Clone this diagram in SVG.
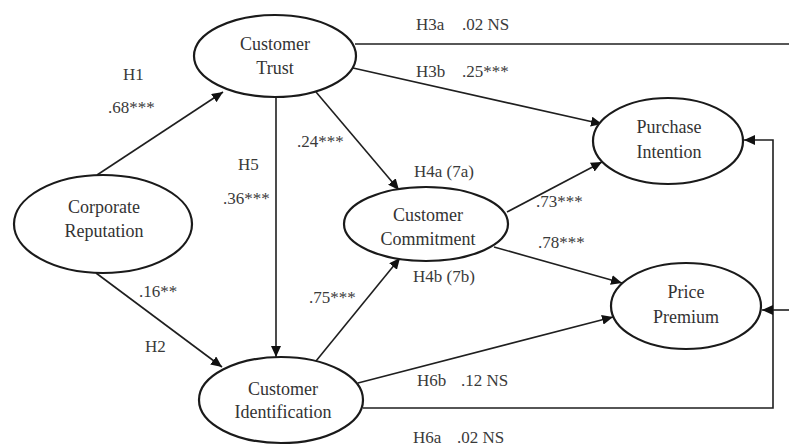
<svg xmlns="http://www.w3.org/2000/svg" width="789" height="446" viewBox="0 0 789 446">
<style>
.node ellipse{fill:#fff;stroke:#1a1a1a;stroke-width:2.2}
.node text{font-family:"Liberation Serif","Times New Roman",serif;font-size:18px;fill:#333;text-anchor:middle}
.lbl{font-family:"Liberation Serif","Times New Roman",serif;font-size:17px;fill:#3a3a3a}
.c line,.c polyline{stroke:#1f1f1f;stroke-width:1.6;fill:none}
</style>
<defs>
<marker id="ah" markerUnits="userSpaceOnUse" markerWidth="12" markerHeight="10" refX="11" refY="5" orient="auto">
<path d="M0,0 L11,5 L0,10 Z" fill="#111"/>
</marker>
</defs>
<rect width="789" height="446" fill="#fff"/>
<g class="c" id="connectors">
<line x1="355" y1="44" x2="789" y2="44"/>
<line x1="353" y1="68" x2="602" y2="124" marker-end="url(#ah)"/>
<polyline points="363,408 773,408 773,140 744,140" marker-end="url(#ah)"/>
<line x1="789" y1="310" x2="762" y2="310" marker-end="url(#ah)"/>
<line x1="316" y1="92" x2="399" y2="190" marker-end="url(#ah)"/>
<line x1="276" y1="97" x2="276" y2="357" marker-end="url(#ah)"/>
<line x1="97" y1="175" x2="223" y2="92" marker-end="url(#ah)"/>
<line x1="96" y1="273" x2="222" y2="367" marker-end="url(#ah)"/>
<line x1="316" y1="361" x2="400" y2="258" marker-end="url(#ah)"/>
<line x1="507" y1="212" x2="602" y2="162" marker-end="url(#ah)"/>
<line x1="494" y1="247" x2="622" y2="283" marker-end="url(#ah)"/>
<line x1="358" y1="383" x2="613" y2="317" marker-end="url(#ah)"/>
</g>
<g class="node" id="trust"><ellipse cx="275" cy="56" rx="81" ry="41"/><text x="275" y="50">Customer</text><text x="275" y="74">Trust</text></g>
<g class="node" id="reputation"><ellipse cx="103" cy="224" rx="89" ry="49"/><text x="104" y="213">Corporate</text><text x="104" y="237">Reputation</text></g>
<g class="node" id="identification"><ellipse cx="281" cy="400" rx="82" ry="43"/><text x="283" y="395">Customer</text><text x="283" y="418">Identification</text></g>
<g class="node" id="commitment"><ellipse cx="426" cy="224" rx="82" ry="37"/><text x="428" y="221">Customer</text><text x="428" y="245">Commitment</text></g>
<g class="node" id="purchase"><ellipse cx="668" cy="141" rx="75" ry="43"/><text x="669" y="133">Purchase</text><text x="669" y="158">Intention</text></g>
<g class="node" id="price"><ellipse cx="686" cy="306" rx="75" ry="43"/><text x="686" y="298">Price</text><text x="686" y="323">Premium</text></g>
<g id="labels">
<text class="lbl" x="123" y="80">H1</text>
<text class="lbl" x="108" y="113">.68***</text>
<text class="lbl" x="238" y="170">H5</text>
<text class="lbl" x="223" y="204">.36***</text>
<text class="lbl" x="297" y="147">.24***</text>
<text class="lbl" x="416" y="30">H3a</text>
<text class="lbl" x="462" y="30">.02 NS</text>
<text class="lbl" x="416" y="77">H3b</text>
<text class="lbl" x="462" y="77">.25***</text>
<text class="lbl" x="414" y="177">H4a (7a)</text>
<text class="lbl" x="536" y="207">.73***</text>
<text class="lbl" x="538" y="248">.78***</text>
<text class="lbl" x="413" y="282">H4b (7b)</text>
<text class="lbl" x="417" y="386">H6b</text>
<text class="lbl" x="461" y="386">.12 NS</text>
<text class="lbl" x="413" y="443">H6a</text>
<text class="lbl" x="457" y="443">.02 NS</text>
<text class="lbl" x="139" y="297">.16**</text>
<text class="lbl" x="145" y="352">H2</text>
<text class="lbl" x="309" y="303">.75***</text>
</g>
</svg>
